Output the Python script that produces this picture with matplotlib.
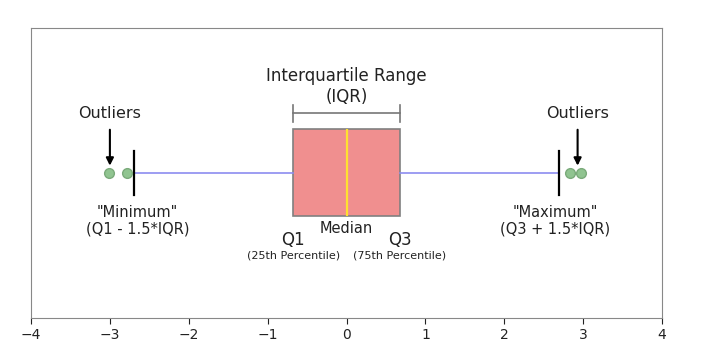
import matplotlib.pyplot as plt

# box-and-whisker summary (standard normal)
q1, med, q3 = -0.6745, 0.0, 0.6745
whis_lo, whis_hi = -2.698, 2.698
fliers = [-3.01, -2.78, 2.83, 2.97]
xticks = [-4, -3, -2, -1, 0, 1, 2, 3, 4]

stats = [dict(med=med, q1=q1, q3=q3, whislo=whis_lo, whishi=whis_hi, fliers=fliers)]

fig = plt.figure(figsize=(7.05, 3.58), dpi=100)
ax = fig.add_axes([0.044, 0.112, 0.895, 0.81])

ax.bxp(stats, positions=[0], widths=0.6, vert=False, patch_artist=True,
       boxprops=dict(facecolor='#f08f8f', edgecolor='#808080', linewidth=1.2),
       whiskerprops=dict(color='#8c8cf0', linewidth=1.2),
       capprops=dict(color='black', linewidth=1.6),
       medianprops=dict(color='#ffe030', linewidth=1.6),
       flierprops=dict(marker='o', markerfacecolor='#90c490',
                       markeredgecolor='#7aaa7a', markersize=7))

ax.set_xlim(-4, 4)
ax.set_ylim(-1, 1)
ax.set_xticks(xticks)
ax.set_yticks([])
ax.tick_params(axis='x', labelsize=10, colors='#222222', length=4)
for s in ax.spines.values():
    s.set_color('#888888')

tc = '#222222'
# IQR label and bracket
ax.text(med, 0.597, 'Interquartile Range\n(IQR)', ha='center', va='center',
        fontsize=12, color=tc, linespacing=1.2)
ax.plot([q1, q3], [0.414, 0.414], color='#777777', lw=1.2)
ax.plot([q1, q1], [0.352, 0.469], color='#777777', lw=1.2)
ax.plot([q3, q3], [0.352, 0.469], color='#777777', lw=1.2)

# outliers labels
for xo in (-3.0, 2.93):
    ax.annotate('Outliers', xy=(xo, 0.05), xytext=(xo, 0.407),
                ha='center', va='center', fontsize=11.5, color=tc,
                arrowprops=dict(arrowstyle='-|>', color='black', lw=1.5,
                                shrinkA=4, shrinkB=0, mutation_scale=11))

ax.text(-2.65, -0.328, '"Minimum"\n(Q1 - 1.5*IQR)', ha='center', va='center',
        fontsize=10.5, color=tc, linespacing=1.1)
ax.text(2.65, -0.328, '"Maximum"\n(Q3 + 1.5*IQR)', ha='center', va='center',
        fontsize=10.5, color=tc, linespacing=1.1)

ax.text(q1, -0.462, 'Q1', ha='center', va='center', fontsize=12, color=tc)
ax.text(q3, -0.462, 'Q3', ha='center', va='center', fontsize=12, color=tc)
ax.text(med, -0.386, 'Median', ha='center', va='center', fontsize=10.5, color=tc)
ax.text(q1, -0.572, '(25th Percentile)', ha='center', va='center', fontsize=8, color=tc)
ax.text(q3, -0.572, '(75th Percentile)', ha='center', va='center', fontsize=8, color=tc)

fig.savefig('out.png', dpi=100)
